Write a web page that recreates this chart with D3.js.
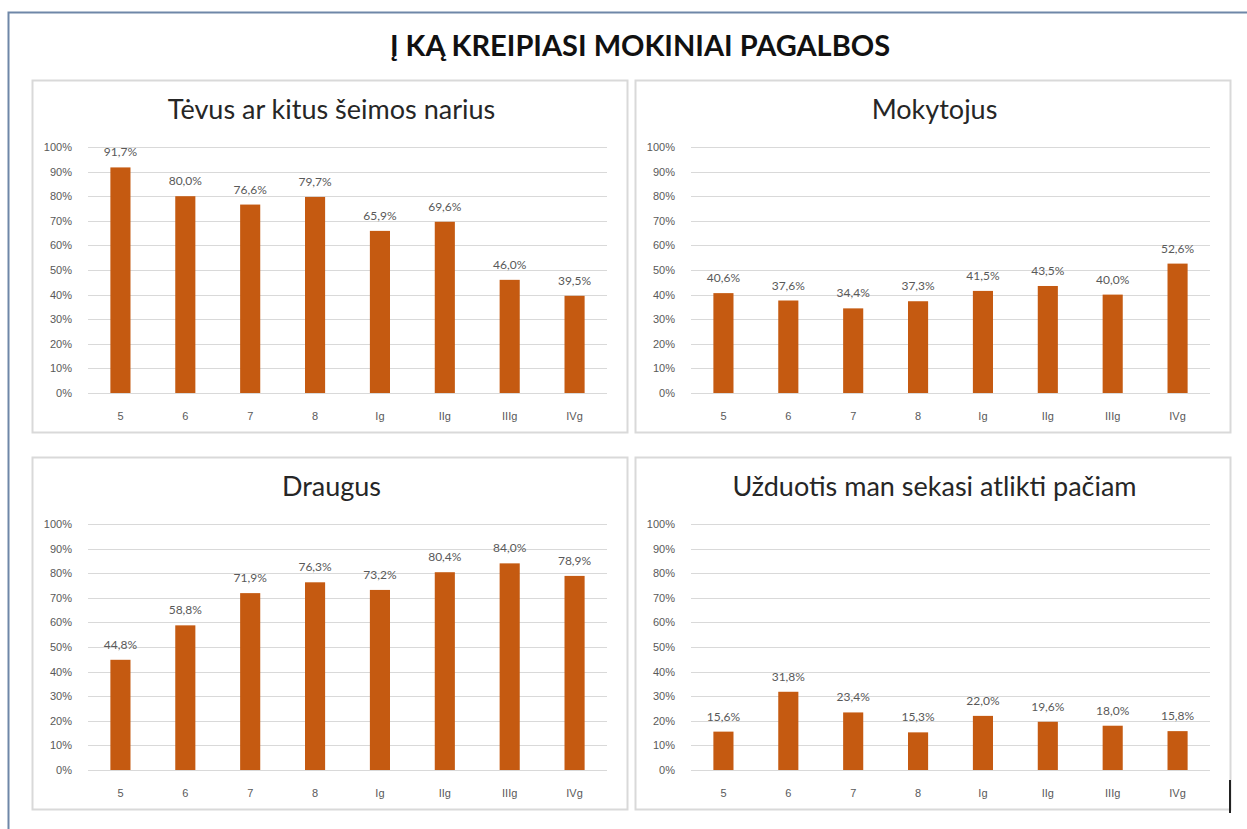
<!DOCTYPE html>
<html>
<head>
<meta charset="utf-8">
<script src="https://cdn.jsdelivr.net/npm/d3@7"></script>
<style>
  body { margin: 0; background: #fff; }
  svg { display: block; font-family: Lato, "Noto Sans", sans-serif; }
</style>
</head>
<body>
<div id="chart"></div>
<script>
// Data
const mainTitle = "Į KĄ KREIPIASI MOKINIAI PAGALBOS";
const classes = ["5", "6", "7", "8", "Ig", "IIg", "IIIg", "IVg"];
const panelTitles = [
  "Tėvus ar kitus šeimos narius",
  "Mokytojus",
  "Draugus",
  "Užduotis man sekasi atlikti pačiam"
];
const parentsValues = [91.7, 80.0, 76.6, 79.7, 65.9, 69.6, 46.0, 39.5];
const teachersValues = [40.6, 37.6, 34.4, 37.3, 41.5, 43.5, 40.0, 52.6];
const friendsValues = [44.8, 58.8, 71.9, 76.3, 73.2, 80.4, 84.0, 78.9];
const selfValues = [15.6, 31.8, 23.4, 15.3, 22.0, 19.6, 18.0, 15.8];
const yTicks = [0, 10, 20, 30, 40, 50, 60, 70, 80, 90, 100];

const seriesList = [parentsValues, teachersValues, friendsValues, selfValues];

const W = 1247, H = 829;
const barColor = "#c55a11";
const gridColor = "#d9d9d9";
const textColor = "#595959";

const svg = d3.select("#chart").append("svg")
  .attr("width", W)
  .attr("height", H);

// Outer frame (top and left edges visible)
svg.append("path")
  .attr("d", `M8.5,${H} L8.5,12.5 L${W},12.5`)
  .attr("fill", "none")
  .attr("stroke", "#6f87a8")
  .attr("stroke-width", 2);

// Main title
svg.append("text")
  .attr("x", 640)
  .attr("y", 56)
  .attr("text-anchor", "middle")
  .style("font-size", "29px")
  .style("font-weight", "bold")
  .style("fill", "#111")
  .text(mainTitle);

// Panel boxes
const panels = [
  { x: 32, y: 80 },
  { x: 635, y: 80 },
  { x: 32, y: 457 },
  { x: 635, y: 457 }
];
const panelW = 595, panelH = 352;
const plot = { left: 56, right: 20, top: 67, bottom: 313 };

panels.forEach((p, i) => {
  const g = svg.append("g").attr("transform", `translate(${p.x},${p.y})`);

  g.append("rect")
    .attr("x", 0.5)
    .attr("y", 0.5)
    .attr("width", panelW)
    .attr("height", panelH)
    .attr("fill", "#fff")
    .attr("stroke", gridColor)
    .attr("stroke-width", 2);

  g.append("text")
    .attr("x", panelW / 2 + 2)
    .attr("y", 39)
    .attr("text-anchor", "middle")
    .style("font-size", "27px")
    .style("fill", "#262626")
    .text(panelTitles[i]);

  const x = d3.scaleBand()
    .domain(classes)
    .range([plot.left, panelW - plot.right])
    .paddingInner(0.69)
    .paddingOuter(0.345);

  const y = d3.scaleLinear()
    .domain([0, 100])
    .range([plot.bottom, plot.top]);

  // Gridlines
  g.append("g")
    .selectAll("line")
    .data(yTicks)
    .join("line")
    .attr("x1", plot.left)
    .attr("x2", panelW - plot.right)
    .attr("y1", d => Math.round(y(d)) + 0.5)
    .attr("y2", d => Math.round(y(d)) + 0.5)
    .attr("stroke", gridColor)
    .attr("stroke-width", 1.2);

  // Y tick labels
  const yAxis = g.append("g")
    .attr("transform", `translate(${plot.left - 16},0)`)
    .call(d3.axisLeft(y).tickValues(yTicks).tickSize(0).tickFormat(d => d + "%"));
  yAxis.select(".domain").remove();
  yAxis.selectAll("text")
    .style("font-size", "11px")
    .style("fill", textColor)
    .attr("x", 0);

  // X category labels
  const xAxis = g.append("g")
    .attr("transform", `translate(0,${y(0) + 16})`)
    .call(d3.axisBottom(x).tickSize(0));
  xAxis.select(".domain").remove();
  xAxis.selectAll("text")
    .style("font-size", "11px")
    .style("fill", textColor);

  const values = seriesList[i];

  // Bars
  g.append("g")
    .selectAll("rect")
    .data(values)
    .join("rect")
    .attr("x", (d, j) => x(classes[j]))
    .attr("y", d => y(d))
    .attr("width", x.bandwidth())
    .attr("height", d => y(0) - y(d))
    .attr("fill", barColor);

  // Data labels
  g.append("g")
    .selectAll("text")
    .data(values)
    .join("text")
    .attr("x", (d, j) => x(classes[j]) + x.bandwidth() / 2)
    .attr("y", d => y(d) - 11)
    .attr("text-anchor", "middle")
    .style("font-size", "12px")
    .style("fill", textColor)
    .text(d => d.toFixed(1).replace(".", ",") + "%");
});

// Text cursor mark at the bottom right
svg.append("line")
  .attr("x1", 1230)
  .attr("x2", 1230)
  .attr("y1", 780)
  .attr("y2", 813)
  .attr("stroke", "#222")
  .attr("stroke-width", 2);
</script>
</body>
</html>
